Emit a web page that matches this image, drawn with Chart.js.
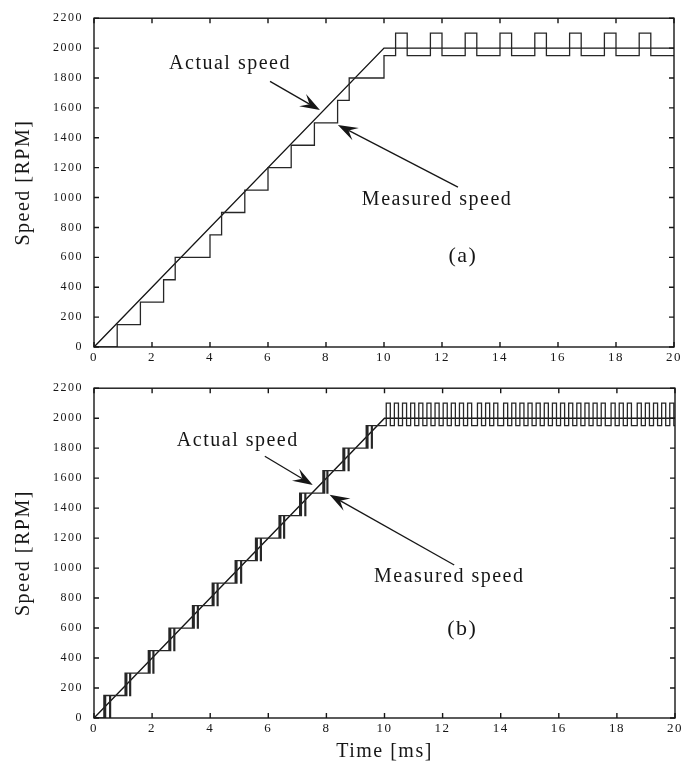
<!DOCTYPE html>
<html>
<head>
<meta charset="utf-8">
<script src="https://cdn.jsdelivr.net/npm/chart.js@4.4.0/dist/chart.umd.min.js"></script>
<style>
  body { margin: 0; background: #fff; }
  #wrap { position: relative; width: 685px; height: 766px; }
  canvas { position: absolute; left: 0; }
  #chartA { top: 0; }
  #chartB { top: 370px; }
</style>
</head>
<body>
<div id="wrap">
  <canvas id="chartA" width="685" height="370"></canvas>
  <canvas id="chartB" width="685" height="396"></canvas>
</div>
<script>
// tick labels
const timeTicks = [0, 2, 4, 6, 8, 10, 12, 14, 16, 18, 20];
const speedTicks = [0, 200, 400, 600, 800, 1000, 1200, 1400, 1600, 1800, 2000, 2200];

// actual speed (same in both plots)
const actualTime = [0, 10, 20];
const actualSpeed = [0, 2000, 2000];

// (a) measured speed, value holds from each time to the next
const measuredTimeA = [0, 0.8, 1.6, 2.4, 2.8, 4.0, 4.4, 5.2, 6.0, 6.8, 7.6, 8.4, 8.8, 10.0,
  10.4, 10.8, 11.6, 12.0, 12.8, 13.2, 14.0, 14.4, 15.2, 15.6, 16.4, 16.8, 17.6, 18.0, 18.8, 19.2, 20];
const measuredSpeedA = [0, 150, 300, 450, 600, 750, 900, 1050, 1200, 1350, 1500, 1650, 1800, 1950,
  2100, 1950, 2100, 1950, 2100, 1950, 2100, 1950, 2100, 1950, 2100, 1950, 2100, 1950, 2100, 1950, 1950];

// (b) measured speed during the ramp (chatter at every step)
const measuredTimeB = [0,
  0.34, 0.37, 0.40, 0.54, 0.57,
  1.07, 1.10, 1.13, 1.23, 1.26,
  1.87, 1.90, 1.93, 2.03, 2.06,
  2.58, 2.61, 2.64, 2.75, 2.78,
  3.39, 3.42, 3.45, 3.56, 3.59,
  4.07, 4.10, 4.13, 4.24, 4.27,
  4.86, 4.89, 4.92, 5.05, 5.08,
  5.56, 5.59, 5.62, 5.73, 5.76,
  6.37, 6.40, 6.43, 6.53, 6.56,
  7.08, 7.11, 7.14, 7.26, 7.29,
  7.88, 7.91, 7.94, 8.02, 8.05,
  8.57, 8.60, 8.63, 8.75, 8.78,
  9.37, 9.40, 9.43, 9.55, 9.58];
const measuredSpeedB = [0,
  150, 0, 150, 0, 150,
  300, 150, 300, 150, 300,
  450, 300, 450, 300, 450,
  600, 450, 600, 450, 600,
  750, 600, 750, 600, 750,
  900, 750, 900, 750, 900,
  1050, 900, 1050, 900, 1050,
  1200, 1050, 1200, 1050, 1200,
  1350, 1200, 1350, 1200, 1350,
  1500, 1350, 1500, 1350, 1500,
  1650, 1500, 1650, 1500, 1650,
  1800, 1650, 1800, 1650, 1800,
  1950, 1800, 1950, 1800, 1950];

// (b) measured speed after 10 ms: pulses between 1950 and 2100
const pulseRiseB = [10.06, 10.34, 10.62, 10.90, 11.18, 11.46, 11.74, 12.02, 12.30, 12.58, 12.86,
  13.20, 13.48, 13.76, 14.10, 14.38, 14.66, 14.94, 15.22, 15.50, 15.78, 16.06, 16.34, 16.62,
  16.90, 17.18, 17.46, 17.80, 18.08, 18.36, 18.70, 18.98, 19.26, 19.54, 19.82];
const pulseFallB = [10.20, 10.48, 10.76, 11.04, 11.32, 11.60, 11.88, 12.16, 12.44, 12.72, 13.00,
  13.34, 13.62, 13.90, 14.24, 14.52, 14.80, 15.08, 15.36, 15.64, 15.92, 16.20, 16.48, 16.76,
  17.04, 17.32, 17.60, 17.94, 18.22, 18.50, 18.84, 19.12, 19.40, 19.68, 19.96];
const pulseHigh = 2100;
const pulseLow = 1950;

const ink = '#161616';
const serif = "'Liberation Serif', 'Times New Roman', serif";

function zip(xs, ys) {
    return xs.map((x, i) => ({ x: x, y: ys[i] }));
}

const actualPoints = zip(actualTime, actualSpeed);
const measuredPointsA = zip(measuredTimeA, measuredSpeedA);
const measuredPointsB = zip(measuredTimeB, measuredSpeedB);
pulseRiseB.forEach((t, i) => {
    measuredPointsB.push({ x: t, y: pulseHigh });
    measuredPointsB.push({ x: pulseFallB[i], y: pulseLow });
});
measuredPointsB.push({ x: 20, y: pulseLow });

function drawArrow(ctx, x1, y1, x2, y2) {
    const ang = Math.atan2(y2 - y1, x2 - x1);
    const c = Math.cos(ang), s = Math.sin(ang);
    const len = 20, half = 7;
    ctx.beginPath();
    ctx.moveTo(x1, y1);
    ctx.lineTo(x2 - c * len * 0.6, y2 - s * len * 0.6);
    ctx.stroke();
    ctx.beginPath();
    ctx.moveTo(x2, y2);
    ctx.lineTo(x2 - c * len + s * half, y2 - s * len - c * half);
    ctx.lineTo(x2 - c * len * 0.6, y2 - s * len * 0.6);
    ctx.lineTo(x2 - c * len - s * half, y2 - s * len + c * half);
    ctx.closePath();
    ctx.fill();
}

// box, inward ticks and the text / arrow notes
function framePlugin(notes) {
    return {
        id: 'frame',
        beforeDraw(chart) {
            chart.ctx.letterSpacing = '1.5px';
        },
        afterDatasetsDraw(chart) {
            const { ctx, chartArea: a, scales: { x, y } } = chart;
            ctx.save();
            ctx.strokeStyle = ink;
            ctx.fillStyle = ink;
            ctx.lineWidth = 1.4;
            ctx.strokeRect(a.left, a.top, a.right - a.left, a.bottom - a.top);
            ctx.beginPath();
            timeTicks.forEach(v => {
                const px = x.getPixelForValue(v);
                ctx.moveTo(px, a.bottom); ctx.lineTo(px, a.bottom - 5);
                ctx.moveTo(px, a.top); ctx.lineTo(px, a.top + 5);
            });
            speedTicks.forEach(v => {
                const py = y.getPixelForValue(v);
                ctx.moveTo(a.left, py); ctx.lineTo(a.left + 5, py);
                ctx.moveTo(a.right, py); ctx.lineTo(a.right - 5, py);
            });
            ctx.stroke();

            ctx.lineWidth = 1.3;
            notes.arrows.forEach(r => {
                drawArrow(ctx, x.getPixelForValue(r[0]), y.getPixelForValue(r[1]),
                    x.getPixelForValue(r[2]), y.getPixelForValue(r[3]));
            });
            ctx.textAlign = 'center';
            ctx.textBaseline = 'middle';
            ctx.letterSpacing = '1.5px';
            notes.texts.forEach(t => {
                ctx.font = t[3] + 'px ' + serif;
                ctx.fillText(t[0], x.getPixelForValue(t[1]), y.getPixelForValue(t[2]));
            });
            ctx.restore();
        }
    };
}

function createSpeedChart(id, measured, notes, opts) {
    const ctx = document.getElementById(id).getContext('2d');
    return new Chart(ctx, {
        type: 'line',
        data: {
            datasets: [{
                label: 'Measured speed',
                data: measured,
                borderColor: '#262626',
                borderWidth: 1.3,
                stepped: 'before',
                pointRadius: 0,
                fill: false
            },
            {
                label: 'Actual speed',
                data: actualPoints,
                borderColor: ink,
                borderWidth: 1.4,
                tension: 0,
                pointRadius: 0,
                fill: false
            }]
        },
        options: {
            responsive: false,
            animation: false,
            events: [],
            layout: { padding: { left: 0, right: opts.right, top: 14, bottom: 0 } },
            plugins: {
                legend: { display: false },
                tooltip: { enabled: false }
            },
            scales: {
                x: {
                    type: 'linear',
                    min: 0,
                    max: 20,
                    afterBuildTicks: s => { s.ticks = timeTicks.map(v => ({ value: v })); },
                    afterFit: s => { s.height = opts.xHeight; },
                    grid: { display: false, drawTicks: false },
                    border: { display: false },
                    ticks: {
                        color: ink,
                        padding: 3,
                        maxRotation: 0,
                        autoSkip: false,
                        callback: v => String(v),
                        font: { family: serif, size: 13 }
                    },
                    title: {
                        display: opts.xTitle,
                        text: 'Time [ms]',
                        color: ink,
                        padding: { top: 0, bottom: 2 },
                        font: { family: serif, size: 20 }
                    }
                },
                y: {
                    min: 0,
                    max: 2200,
                    afterBuildTicks: s => { s.ticks = speedTicks.map(v => ({ value: v })); },
                    afterFit: s => { s.width = 94; },
                    grid: { display: false, drawTicks: false },
                    border: { display: false },
                    ticks: {
                        color: ink,
                        padding: 11,
                        autoSkip: false,
                        callback: v => String(v),
                        font: { family: serif, size: 12 }
                    },
                    title: {
                        display: true,
                        text: 'Speed [RPM]',
                        color: ink,
                        padding: { top: 12, bottom: 0 },
                        font: { family: serif, size: 20 }
                    }
                }
            }
        },
        plugins: [framePlugin(notes)]
    });
}

// notes in data units: arrows [x1, y1, x2 (tip), y2], texts [text, x, y, size]
const notesA = {
    arrows: [[6.07, 1777, 7.79, 1585], [12.55, 1070, 8.41, 1486]],
    texts: [['Actual speed', 4.69, 1896, 20], ['Measured speed', 11.83, 984, 20], ['(a)', 12.72, 608, 22]]
};
const notesB = {
    arrows: [[5.88, 1746, 7.53, 1555], [12.4, 1021, 8.11, 1489]],
    texts: [['Actual speed', 4.95, 1851, 20], ['Measured speed', 12.23, 942, 20], ['(b)', 12.68, 593, 22]]
};

createSpeedChart('chartA', measuredPointsA, notesA, { right: 11, xHeight: 23, xTitle: false });
createSpeedChart('chartB', measuredPointsB, notesB, { right: 10, xHeight: 48, xTitle: true });
</script>
</body>
</html>
